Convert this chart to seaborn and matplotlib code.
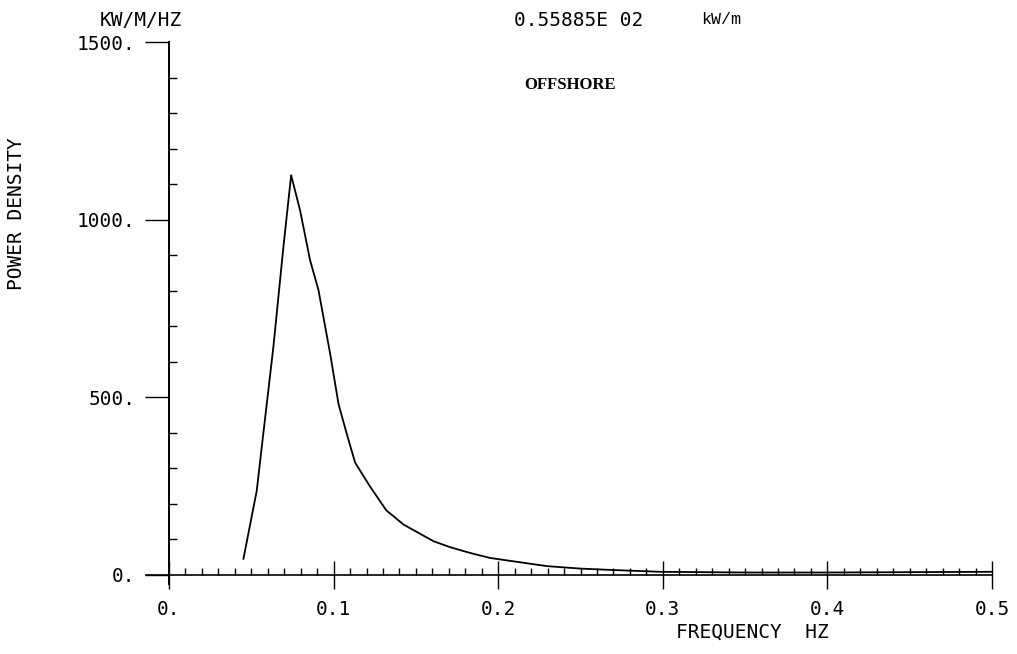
import numpy as np
import pandas as pd
import matplotlib
matplotlib.use("Agg")
import matplotlib.pyplot as plt
import seaborn as sns

# ------ spectrum ------
freq = [0.0452, 0.0533, 0.0573, 0.0634, 0.0695, 0.0742, 0.0796, 0.0857,
        0.0908, 0.0979, 0.1030, 0.1080, 0.1131, 0.1220, 0.1320, 0.1425,
        0.1607, 0.1710, 0.1830, 0.1950, 0.2190, 0.2296, 0.2500, 0.2700,
        0.2985, 0.3500, 0.4000, 0.4500, 0.5000]
power = [45, 237, 398, 641, 923, 1125, 1027, 886,
         802, 623, 481, 397, 316, 250, 182, 142,
         95, 78, 62, 48, 32, 25, 18, 14,
         9, 7, 7, 8, 9]

xticks = [0.0, 0.1, 0.2, 0.3, 0.4, 0.5]
xticklabels = ["0.", "0.1", "0.2", "0.3", "0.4", "0.5"]
yticks = [0, 500, 1000, 1500]
yticklabels = ["0.", "500.", "1000.", "1500."]

df = pd.DataFrame({"f": freq, "p": power})

sns.set_style("white")
plt.rcParams["font.family"] = ["DejaVu Sans Mono", "DejaVu Sans"]
plt.rcParams["text.color"] = "black"
plt.rcParams["xtick.color"] = "black"
plt.rcParams["ytick.color"] = "black"

fig = plt.figure(figsize=(10.17, 6.54), dpi=100)
ax = fig.add_axes([169 / 1017, 1 - 575 / 654, 823 / 1017, 533 / 654])

sns.lineplot(data=df, x="f", y="p", ax=ax, color="black", linewidth=1.3)

ax.set_xlim(0, 0.5)
ax.set_ylim(0, 1500)
ax.set_xlabel("")
ax.set_ylabel("")

for s in ["top", "right"]:
    ax.spines[s].set_visible(False)
ax.spines["left"].set_color("black")
ax.spines["bottom"].set_color("black")
ax.spines["left"].set_linewidth(1.4)
ax.spines["bottom"].set_linewidth(1.2)
ax.spines["bottom"].set_bounds(-0.014, 0.5)
ax.spines["left"].set_bounds(-25, 1500)

ax.set_xticks(xticks)
ax.set_xticklabels(xticklabels)
ax.set_xticks(np.arange(0.01, 0.5, 0.01), minor=True)
ax.set_yticks(yticks)
ax.set_yticklabels(yticklabels)
ax.set_yticks(np.arange(100, 1500, 100), minor=True)

ax.tick_params(axis="x", which="major", direction="inout", length=20, width=1,
               colors="black", labelsize=14, pad=8)
ax.tick_params(axis="x", which="minor", direction="in", length=5, width=1,
               color="black")
ax.tick_params(axis="y", which="major", direction="out", length=17, width=1,
               colors="black", labelsize=14, pad=7)
ax.tick_params(axis="y", which="minor", direction="in", length=6, width=1,
               color="black")
ax.tick_params(bottom=True, left=True, which="both")

fig.text(141 / 1017, 1 - 20 / 654, "KW/M/HZ", ha="center", va="center",
         fontsize=14)
fig.text(579 / 1017, 1 - 20 / 654, "0.55885E 02", ha="center", va="center",
         fontsize=14)
fig.text(721 / 1017, 1 - 20 / 654, "kW/m", ha="center", va="center",
         fontsize=12, family="Liberation Mono")
fig.text(570 / 1017, 1 - 85 / 654, "OFFSHORE", ha="center", va="center",
         fontsize=12, family="Liberation Serif", fontweight="bold")
fig.text(17 / 1017, 1 - 214 / 654, "POWER DENSITY", ha="center", va="center",
         fontsize=14, rotation=90)
fig.text(752 / 1017, 1 - 632 / 654, "FREQUENCY  HZ", ha="center", va="center",
         fontsize=14)

fig.savefig("out.png", dpi=100, facecolor="white")
